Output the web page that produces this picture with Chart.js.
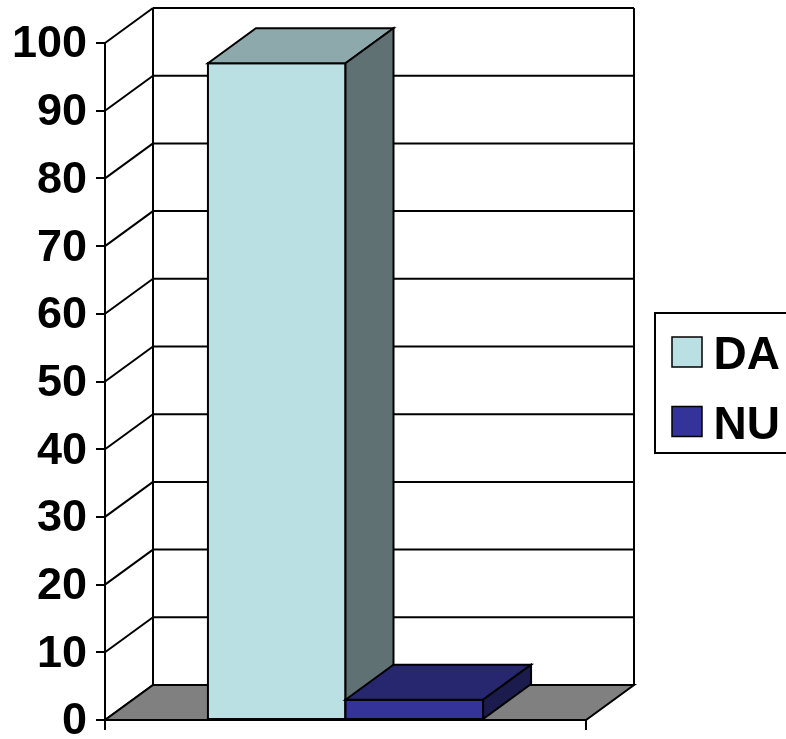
<!DOCTYPE html>
<html>
<head>
<meta charset="utf-8">
<script src="https://cdn.jsdelivr.net/npm/chart.js@4/dist/chart.umd.min.js"></script>
<style>
html,body{margin:0;padding:0;background:#fff;}
canvas{display:block;}
</style>
</head>
<body>
<canvas id="c" width="786" height="739"></canvas>
<script>
// ---- data ----
const categories = [''];
const seriesNames = ['DA', 'NU'];
const daValues = [97];
const nuValues = [3];
const yMin = 0;
const yMax = 100;
const yStep = 10;

// ---- styles ----
const frontColors = ['#BBE0E3', '#333399'];
const topColors = ['#8EA9AB', '#27276F'];
const sideColors = ['#5F7173', '#1B1B4D'];
const DEPTH_X = 48;
const DEPTH_Y = -35;
const LEGEND_FONT = "bold 46px 'Liberation Sans', Arial, sans-serif";

function line(ctx, x1, y1, x2, y2) {
  ctx.beginPath(); ctx.moveTo(x1, y1); ctx.lineTo(x2, y2); ctx.stroke();
}
function poly(ctx, pts, fill) {
  ctx.beginPath();
  ctx.moveTo(pts[0][0], pts[0][1]);
  for (let i = 1; i < pts.length; i++) ctx.lineTo(pts[i][0], pts[i][1]);
  ctx.closePath();
  if (fill) { ctx.fillStyle = fill; ctx.fill(); }
  ctx.stroke();
}

const threeD = {
  id: 'threeD',
  beforeDatasetsDraw(chart) {
    const ctx = chart.ctx, ca = chart.chartArea, ys = chart.scales.y;
    const dx = DEPTH_X, dy = DEPTH_Y;
    ctx.save();
    ctx.lineWidth = 2;
    ctx.strokeStyle = '#000';
    ctx.lineJoin = 'miter';
    // back wall
    ctx.fillStyle = '#fff';
    ctx.fillRect(ca.left + dx, ca.top + dy, ca.right - ca.left, ca.bottom - ca.top);
    // gridlines on side wall and back wall
    ys.ticks.forEach(t => {
      const py = ys.getPixelForValue(t.value);
      line(ctx, ca.left, py, ca.left + dx, py + dy);
      line(ctx, ca.left + dx, py + dy, ca.right + dx, py + dy);
    });
    line(ctx, ca.left + dx, ca.top + dy, ca.left + dx, ca.bottom + dy);
    line(ctx, ca.right + dx, ca.top + dy, ca.right + dx, ca.bottom + dy);
    // floor
    poly(ctx, [[ca.left, ca.bottom], [ca.right, ca.bottom], [ca.right + dx, ca.bottom + dy], [ca.left + dx, ca.bottom + dy]], '#808080');
    // category ticks
    line(ctx, ca.left, ca.bottom, ca.left, ca.bottom + 10);
    line(ctx, ca.right, ca.bottom, ca.right, ca.bottom + 10);
    // bars
    chart.data.datasets.forEach((ds, i) => {
      const meta = chart.getDatasetMeta(i);
      meta.data.forEach(el => {
        const l = el.x - el.width / 2, r = el.x + el.width / 2;
        const t = el.y, b = el.base;
        poly(ctx, [[l, t], [r, t], [r, b], [l, b]], frontColors[i]);
        poly(ctx, [[l, t], [l + dx, t + dy], [r + dx, t + dy], [r, t]], topColors[i]);
        poly(ctx, [[r, t], [r + dx, t + dy], [r + dx, b + dy], [r, b]], sideColors[i]);
      });
    });
    // legend
    ctx.lineWidth = 2;
    ctx.fillStyle = '#fff';
    ctx.fillRect(655, 313, 140, 140);
    ctx.strokeRect(655, 313, 140, 140);
    ctx.font = LEGEND_FONT;
    ctx.textBaseline = 'alphabetic';
    chart.data.datasets.forEach((ds, i) => {
      const sy = 337 + i * 69.5;
      ctx.lineWidth = 1.5;
      ctx.fillStyle = ds.backgroundColor;
      ctx.fillRect(672, sy, 30, 30);
      ctx.strokeRect(672, sy, 30, 30);
      ctx.fillStyle = '#000';
      ctx.fillText(ds.label, 713.5, sy + 32);
    });
    ctx.restore();
    return false;
  }
};

new Chart(document.getElementById('c'), {
  type: 'bar',
  data: {
    labels: categories,
    datasets: [
      { label: seriesNames[0], data: daValues, backgroundColor: frontColors[0] },
      { label: seriesNames[1], data: nuValues, backgroundColor: frontColors[1] }
    ]
  },
  options: {
    responsive: false,
    devicePixelRatio: 1,
    animation: false,
    events: [],
    datasets: { bar: { barPercentage: 1.0, categoryPercentage: 0.572 } },
    layout: { padding: { top: 43, right: 200, bottom: 19, left: 0 } },
    plugins: { legend: { display: false }, tooltip: { enabled: false } },
    scales: {
      x: { display: false },
      y: {
        min: yMin, max: yMax,
        ticks: { stepSize: yStep, color: '#000', padding: 9, labelOffset: 2, font: { family: "'Liberation Sans', Arial, sans-serif", size: 45, weight: 'bold' } },
        grid: { drawOnChartArea: false, drawTicks: true, tickLength: 9, color: '#000', lineWidth: 2 },
        border: { display: true, color: '#000', width: 2 },
        afterFit(scale) { scale.width = 105; scale.paddingTop = 0; scale.paddingBottom = 0; }
      }
    }
  },
  plugins: [threeD]
});
</script>
</body>
</html>
